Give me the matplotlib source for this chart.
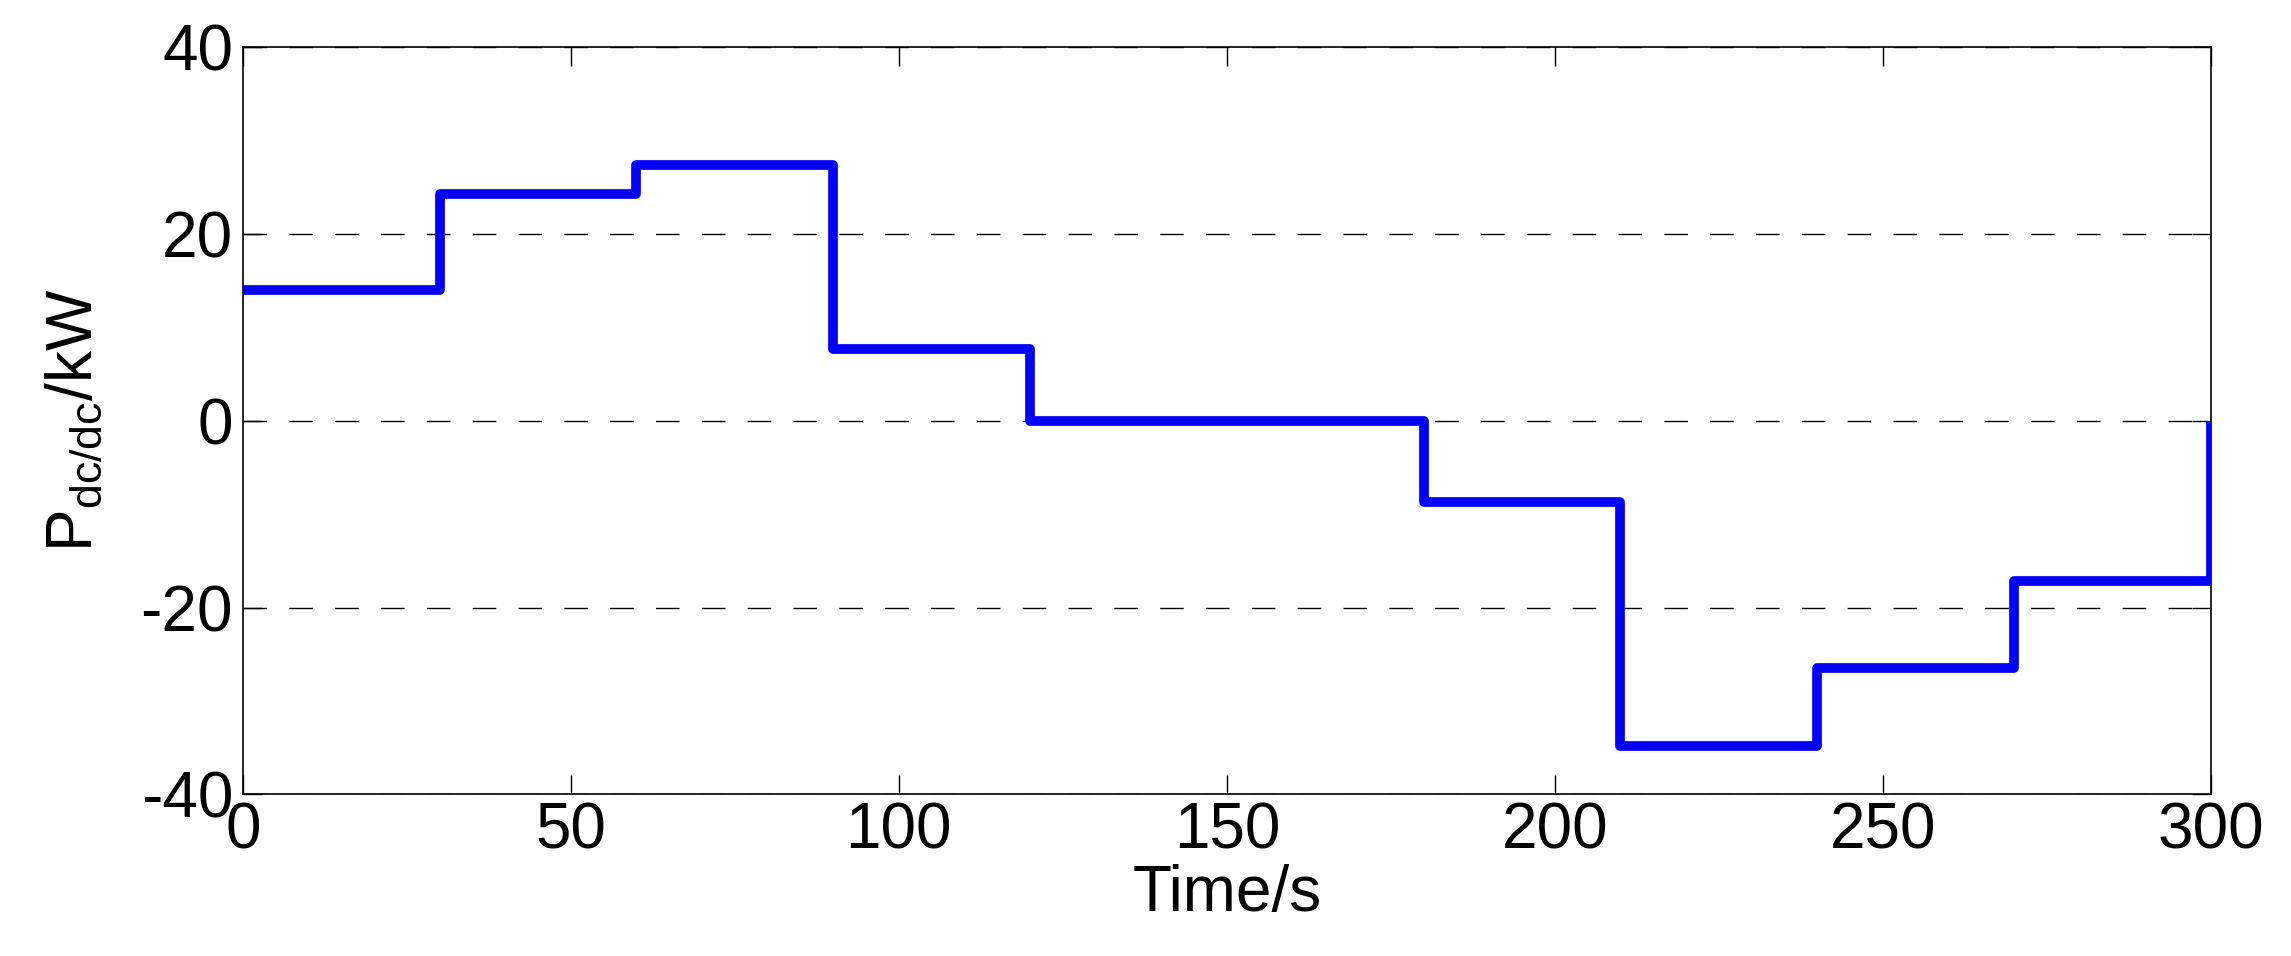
import matplotlib
matplotlib.use("Agg")
import matplotlib.pyplot as plt

# step profile of the dc/dc converter power
t_edges = [0, 30, 60, 90, 120, 180, 210, 240, 270, 300]
p_dcdc = [14.0, 24.3, 27.4, 7.7, 0.0, -8.7, -34.8, -26.5, -17.2, 0.0]

x_ticks = [0, 50, 100, 150, 200, 250, 300]
y_ticks = [-40, -20, 0, 20, 40]

plt.rcParams['font.family'] = ['Liberation Sans', 'DejaVu Sans']
plt.rcParams['mathtext.fontset'] = 'custom'
plt.rcParams['mathtext.rm'] = 'Liberation Sans'
plt.rcParams['mathtext.it'] = 'Liberation Sans:italic'
plt.rcParams['axes.unicode_minus'] = False

fig = plt.figure(figsize=(22.91, 9.56), dpi=100)
ax = fig.add_axes([0.106, 0.169, 0.859, 0.782])

ax.plot(t_edges, p_dcdc, drawstyle='steps-post', color='#0000ff', linewidth=7,
        solid_joinstyle='round', solid_capstyle='butt', zorder=3)

ax.set_xlim(0, 300)
ax.set_ylim(-40, 40)
ax.set_xticks(x_ticks)
ax.set_yticks(y_ticks)

ax.yaxis.grid(True, color='black', linewidth=1.0, linestyle=(0, (17, 16)))
ax.set_axisbelow(True)

for s in ax.spines.values():
    s.set_linewidth(1.2)

ax.tick_params(direction='in', length=14, width=1.0, top=True, right=True, labelsize=46)
ax.tick_params(axis='x', pad=5)
ax.tick_params(axis='y', pad=7)

ax.set_xlabel('Time/s', fontsize=46, labelpad=2)
ax.set_ylabel(r'P$_{\mathrm{dc/dc}}$/kW', fontsize=46, labelpad=26)

fig.savefig('out.png', dpi=100)
